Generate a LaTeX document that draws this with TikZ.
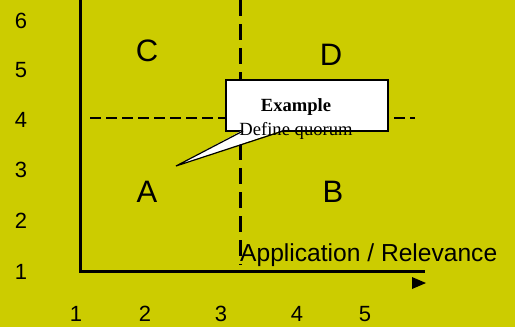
\documentclass[tikz,border=0pt]{standalone}
\usepackage{fontspec}
\setmainfont{Liberation Sans}
\newfontfamily\serifbox{Liberation Serif}
\definecolor{olivebg}{RGB}{204,204,0}
\begin{document}
\begin{tikzpicture}[
    x=1pt, y=-1pt,
    num/.style={font=\fontsize{22}{24}\selectfont, inner sep=0pt},
    quad/.style={font=\fontsize{31}{33}\selectfont, inner sep=0pt},
    axis/.style={line width=3pt},
    sep/.style={line width=3pt, dash pattern=on 16pt off 8pt},
    mid/.style={line width=1.6pt, dash pattern=on 11pt off 5pt}
]
\fill[olivebg] (0,0) rectangle (515,327);
\useasboundingbox (0,0) rectangle (515,327);
% axis ticks
\foreach \v/\y in {6/21,5/70,4/120,3/170,2/221,1/272}
    \node[num] (y\v) at (21,\y) {\v};
\foreach \v/\x in {1/76,2/145,3/221,4/297,5/365}
    \node[num] (x\v) at (\x,314) {\v};
% axes
\coordinate (top) at (80,0);
\coordinate (origin) at (80,271);
\coordinate (right) at (425,271);
\draw[axis] (top) -- (origin) -- (right);
\fill (412,277) -- (426,283) -- (412,289) -- cycle;
% quadrant separators
\coordinate (vtop) at (240,0);
\coordinate (vbot) at (240,265);
\coordinate (hleft) at (90,118);
\coordinate (hright) at (415,118);
\draw[sep] (vtop) -- (vbot);
\draw[mid] (hleft) -- (hright);
% quadrants
\node[quad] (C) at (147,51) {C};
\node[quad] (D) at (331,55) {D};
\node[quad] (A) at (147,192) {A};
\node[quad] (B) at (333,192) {B};
\node[font=\fontsize{24.6}{26}\selectfont, anchor=west, inner sep=0pt] (app) at (240,255) {Application / Relevance};
% callout
\node[draw, fill=white, line width=1.2pt, minimum width=162pt, minimum height=51pt] (callout) at (307,105.5) {};
\coordinate (tip) at (176,166);
\fill[white] (243,130) -- (tip) -- (283,130) -- cycle;
\draw[line width=1.2pt] (243,131) -- (tip) -- (283,131);
\node[font=\serifbox\fontsize{18.6}{24}\selectfont, align=center, inner sep=0pt] (ex) at (296,119.5) {\textbf{Example}\\Define quorum};
\end{tikzpicture}
\end{document}
